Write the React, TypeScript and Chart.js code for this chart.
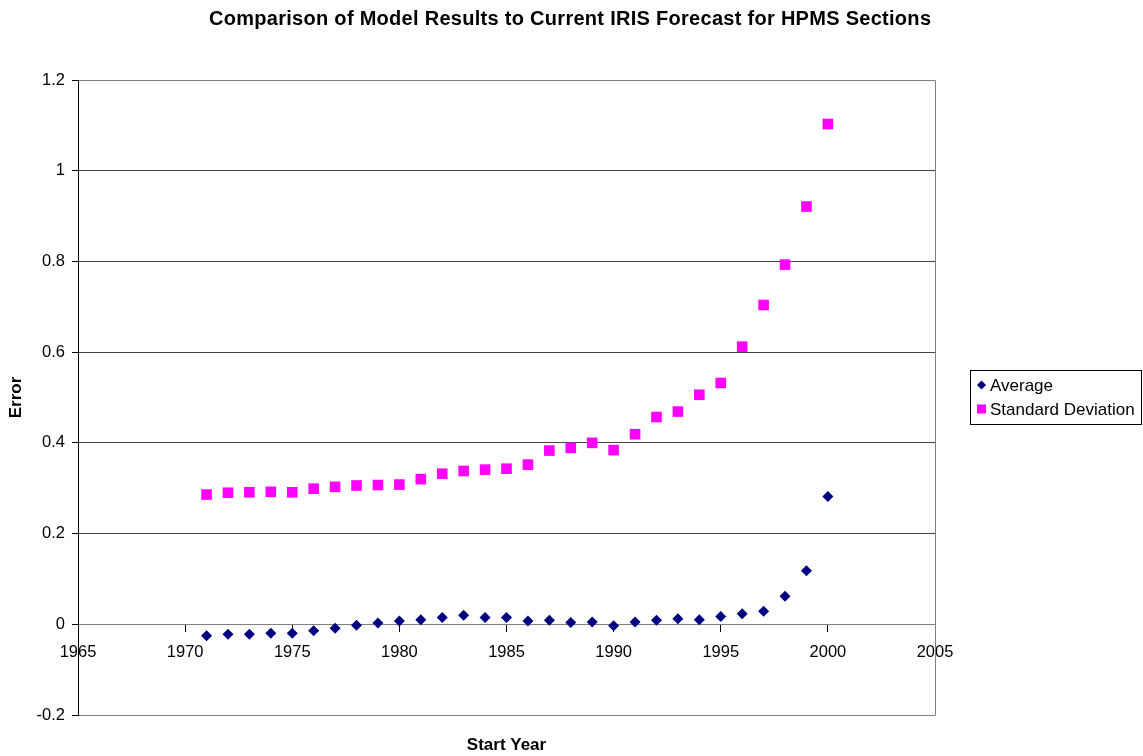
import React, { useEffect, useRef } from "react";
import { Chart, registerables } from "chart.js";

Chart.register(...registerables);

const years = [
  1971, 1972, 1973, 1974, 1975, 1976, 1977, 1978, 1979, 1980,
  1981, 1982, 1983, 1984, 1985, 1986, 1987, 1988, 1989, 1990,
  1991, 1992, 1993, 1994, 1995, 1996, 1997, 1998, 1999, 2000,
];

const averageValues = [
  -0.025, -0.022, -0.022, -0.02, -0.02, -0.014, -0.009, -0.002, 0.003, 0.007,
  0.01, 0.015, 0.02, 0.015, 0.015, 0.007, 0.009, 0.004, 0.005, -0.003,
  0.005, 0.009, 0.012, 0.01, 0.017, 0.023, 0.029, 0.062, 0.118, 0.282,
];

const stdDevValues = [
  0.286, 0.29, 0.291, 0.292, 0.291, 0.299, 0.303, 0.306, 0.307, 0.308,
  0.32, 0.332, 0.338, 0.341, 0.343, 0.352, 0.383, 0.389, 0.4, 0.384,
  0.419, 0.457, 0.469, 0.506, 0.532, 0.612, 0.704, 0.793, 0.921, 1.103,
];

const seriesLabels = ["Average", "Standard Deviation"];
const seriesColors = ["#000080", "#FF00FF"];
const seriesShapes = ["rectRot", "rect"];

const chartTitle = "Comparison of Model Results to Current IRIS Forecast for HPMS Sections";
const xAxisTitle = "Start Year";
const yAxisTitle = "Error";

const xMin = 1965;
const xMax = 2005;
const xStep = 5;
const yMin = -0.2;
const yMax = 1.2;
const yStep = 0.2;

const FONT = "'Liberation Sans', Arial, sans-serif";
const TITLE_WIDTH = 722;

const decorPlugin = {
  id: "decor",
  beforeDatasetsDraw(chart: any) {
    const { ctx, chartArea: a } = chart;
    ctx.save();
    ctx.strokeStyle = "#808080";
    ctx.lineWidth = 1;
    ctx.beginPath();
    const t = Math.round(a.top) + 0.5;
    const r = Math.round(a.right) + 0.5;
    const b = Math.round(a.bottom) + 0.5;
    ctx.moveTo(a.left + 1, t);
    ctx.lineTo(r, t);
    ctx.lineTo(r, b);
    ctx.lineTo(a.left + 1, b);
    ctx.stroke();
    ctx.restore();
  },
  afterDraw(chart: any) {
    const { ctx, chartArea: a } = chart;
    ctx.save();
    ctx.fillStyle = "#000";
    // Title
    ctx.font = `bold 20px ${FONT}`;
    ctx.textAlign = "left";
    ctx.textBaseline = "middle";
    const w0 = ctx.measureText(chartTitle).width;
    const spacing = Math.max(0, (TITLE_WIDTH - w0) / (chartTitle.length - 1));
    (ctx as any).letterSpacing = `${spacing}px`;
    const w1 = ctx.measureText(chartTitle).width - spacing;
    ctx.fillText(chartTitle, 570 - w1 / 2, 19);
    (ctx as any).letterSpacing = "0px";
    // X axis title
    ctx.textAlign = "center";
    ctx.font = `bold 17px ${FONT}`;
    ctx.fillText(xAxisTitle, (a.left + a.right) / 2, 745);
    // Y axis title
    ctx.save();
    ctx.translate(16, (a.top + a.bottom) / 2);
    ctx.rotate(-Math.PI / 2);
    ctx.fillText(yAxisTitle, 0, 0);
    ctx.restore();

    // Legend
    const lx = 970, ly = 370, lw = 171, lh = 54;
    ctx.strokeStyle = "#000";
    ctx.lineWidth = 1;
    ctx.strokeRect(lx + 0.5, ly + 0.5, lw, lh);
    ctx.font = `17px ${FONT}`;
    ctx.textAlign = "left";
    ctx.textBaseline = "middle";
    const rowsY = [385, 409];
    chart.data.datasets.forEach((ds: any, i: number) => {
      const cy = rowsY[i];
      const cx = 981.5;
      ctx.fillStyle = ds.backgroundColor;
      ctx.beginPath();
      if (ds.pointStyle === "rectRot") {
        ctx.moveTo(cx, cy - 4.5);
        ctx.lineTo(cx + 4.5, cy);
        ctx.lineTo(cx, cy + 4.5);
        ctx.lineTo(cx - 4.5, cy);
        ctx.closePath();
      } else {
        ctx.rect(cx - 4.5, cy - 4.5, 9, 9);
      }
      ctx.fill();
      ctx.fillStyle = "#000";
      ctx.fillText(ds.label, 990, cy + 1);
    });
    ctx.restore();
  },
};

export default function App() {
  const canvasRef = useRef<HTMLCanvasElement | null>(null);

  useEffect(() => {
    if (!canvasRef.current) return;
    Chart.defaults.font.family = FONT;
    Chart.defaults.color = "#000";

    const datasets = [averageValues, stdDevValues].map((vals, i) => ({
      label: seriesLabels[i],
      data: years.map((yr, j) => ({ x: yr, y: vals[j] })),
      backgroundColor: seriesColors[i],
      borderColor: seriesColors[i],
      pointStyle: seriesShapes[i],
      pointRadius: i === 0 ? 5.5 : 7.5,
      pointBorderWidth: 0,
      showLine: false,
    }));

    const chart = new Chart(canvasRef.current, {
      type: "scatter",
      data: { datasets },
      plugins: [decorPlugin],
      options: {
        animation: false,
        responsive: false,
        events: [],
        layout: { padding: { left: 0, right: 208, top: 80, bottom: 41 } },
        plugins: {
          legend: { display: false },
          title: { display: false },
          tooltip: { enabled: false },
        },
        scales: {
          x: {
            type: "linear",
            position: { y: 0 } as any,
            min: xMin,
            max: xMax,
            ticks: {
              stepSize: xStep,
              font: { size: 16.5 },
              color: "#000",
              padding: 11,
              maxRotation: 0,
              callback: (v: any) => String(v),
            },
            grid: {
              drawOnChartArea: false,
              drawTicks: true,
              tickLength: 7,
              tickColor: "#000",
            },
            border: { display: true, color: "#808080", width: 1 },
          },
          y: {
            type: "linear",
            position: "left",
            min: yMin,
            max: yMax,
            afterFit: (scale: any) => {
              scale.width = 78;
            },
            ticks: {
              stepSize: yStep,
              font: { size: 16.5 },
              color: "#000",
              padding: 7,
              callback: (v: any) => String(Math.round(Number(v) * 10) / 10),
            },
            grid: {
              color: "#444",
              lineWidth: 1,
              drawTicks: true,
              tickLength: 6,
              tickColor: "#000",
            },
            border: { display: true, color: "#000", width: 1 },
          },
        },
      } as any,
    });
    return () => chart.destroy();
  }, []);

  return (
    <div style={{ position: "fixed", left: 0, top: 0, width: 1143, height: 756, background: "#fff" }}>
      <canvas ref={canvasRef} width={1143} height={756} style={{ width: 1143, height: 756 }} />
    </div>
  );
}
